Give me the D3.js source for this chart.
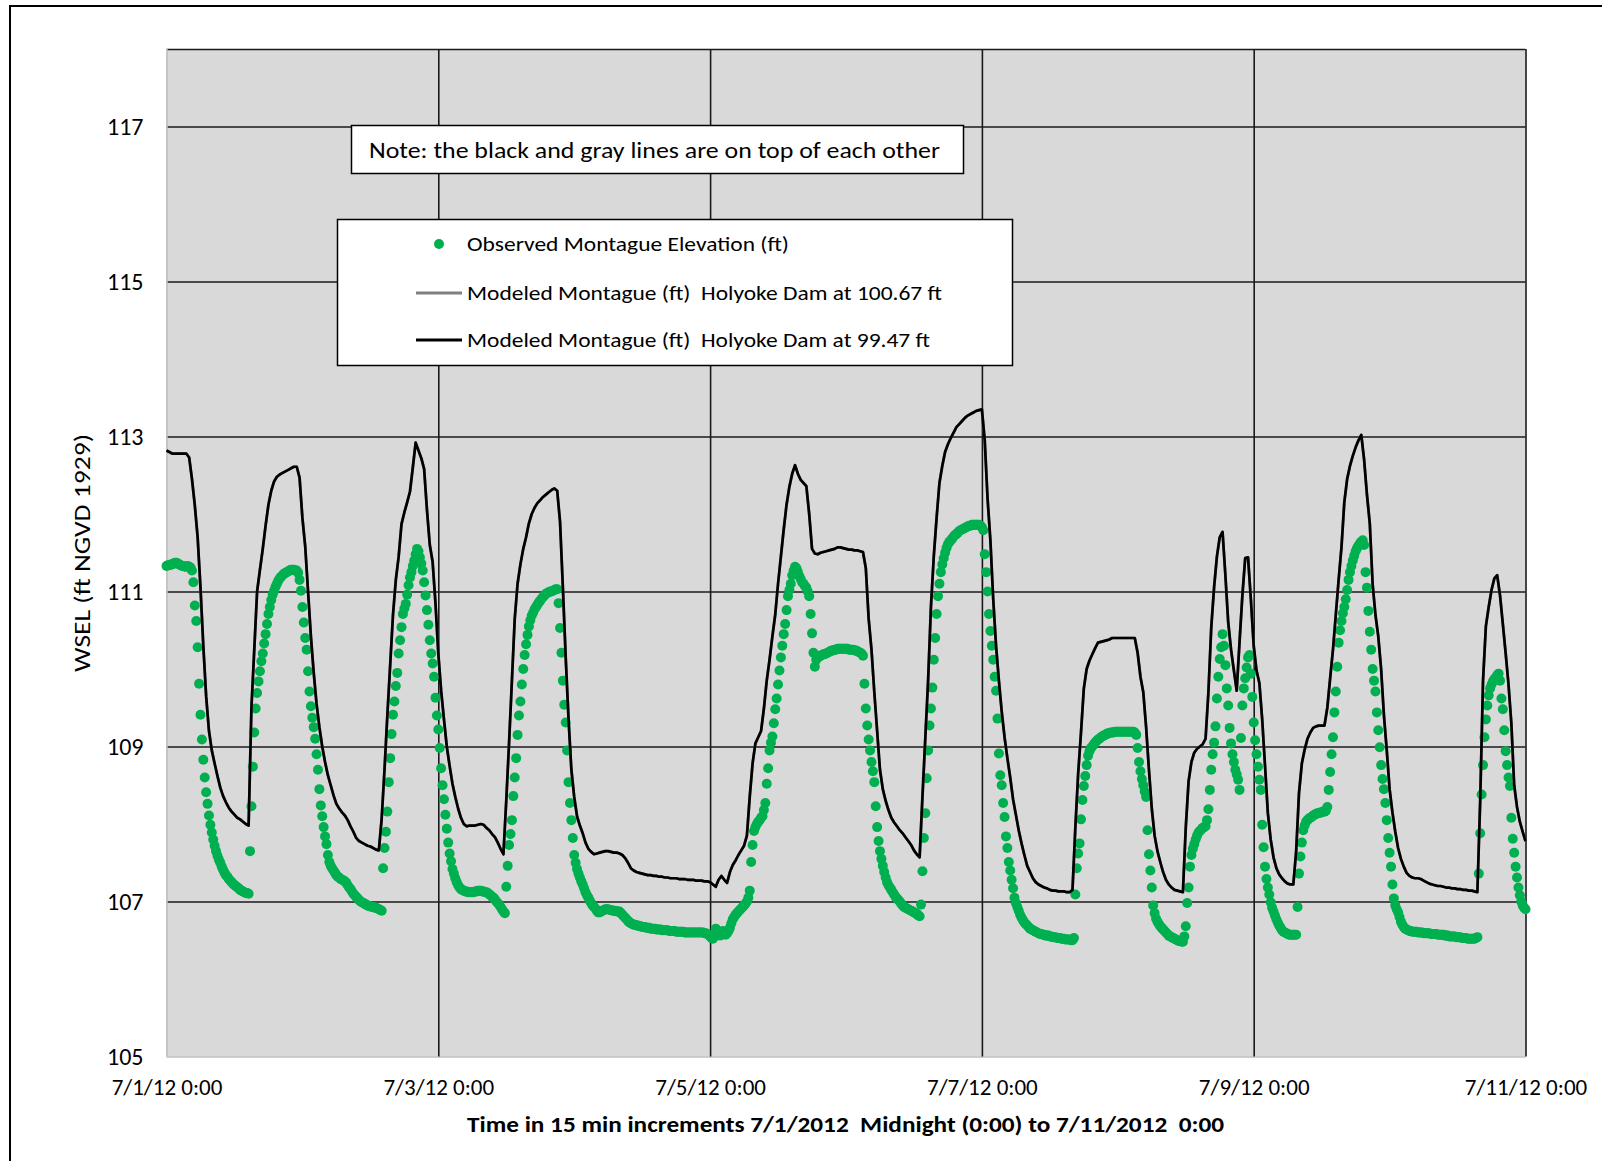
<!DOCTYPE html>
<html><head><meta charset="utf-8">
<script src="https://cdn.jsdelivr.net/npm/d3@7"></script>
<style>
html,body{margin:0;padding:0;background:#fff;}
svg{display:block;}
text{font-family:Carlito,Calibri,Lato,"Open Sans",sans-serif;fill:#000;}
</style></head><body>
<svg id="chart" width="1602" height="1161"></svg>
<script>
// ---------- DATA ----------
const startTime = new Date(2012, 6, 1, 0, 0);
const endTime = new Date(2012, 6, 11, 0, 0);
const observedStepMinutes = 15;
const modeledStepMinutes = 30;

// Observed Montague Elevation (ft), every 15 min from 7/1/2012 0:00
const observedMontague = [
111.33,111.34,111.34,111.35,111.35,111.36,111.37,111.37,111.36,111.35,111.34,111.33,111.33,111.32,111.32,111.33,111.32,111.31,111.27,111.12,110.82,110.62,110.28,109.81,
109.41,109.09,108.83,108.60,108.41,108.26,108.11,107.99,107.89,107.80,107.72,107.65,107.59,107.54,107.50,107.45,107.41,107.37,107.34,107.32,107.29,107.27,107.25,107.23,
107.21,107.20,107.18,107.17,107.15,107.14,107.13,107.12,107.11,107.11,107.10,107.65,108.23,108.74,109.18,109.49,109.69,109.84,109.97,110.10,110.20,110.33,110.45,110.58,
110.71,110.80,110.89,110.96,111.01,111.06,111.10,111.14,111.17,111.19,111.21,111.23,111.24,111.25,111.26,111.27,111.28,111.28,111.28,111.27,111.27,111.24,111.15,111.01,
110.80,110.60,110.40,110.25,109.97,109.71,109.52,109.37,109.25,109.10,108.90,108.70,108.45,108.24,108.10,107.96,107.84,107.74,107.60,107.51,107.46,107.43,107.40,107.37,
107.34,107.32,107.31,107.29,107.28,107.27,107.26,107.24,107.21,107.18,107.16,107.13,107.10,107.08,107.06,107.04,107.02,107.00,106.99,106.98,106.97,106.96,106.95,106.94,
106.94,106.93,106.93,106.92,106.92,106.91,106.90,106.89,106.88,107.43,107.69,107.90,108.16,108.54,108.85,109.16,109.41,109.58,109.78,109.95,110.20,110.37,110.54,110.71,
110.78,110.84,110.96,111.08,111.18,111.25,111.33,111.40,111.48,111.55,111.52,111.44,111.36,111.27,111.12,110.95,110.76,110.57,110.37,110.20,110.07,109.90,109.63,109.40,
109.22,108.98,108.72,108.50,108.32,108.12,107.94,107.76,107.62,107.52,107.42,107.36,107.30,107.25,107.21,107.18,107.16,107.15,107.14,107.13,107.13,107.12,107.12,107.12,
107.12,107.12,107.13,107.13,107.14,107.14,107.14,107.13,107.13,107.12,107.12,107.11,107.09,107.08,107.06,107.05,107.03,107.00,106.98,106.96,106.93,106.90,106.87,106.85,
107.19,107.46,107.73,107.87,108.05,108.36,108.60,108.85,109.15,109.40,109.58,109.80,110.00,110.18,110.32,110.44,110.55,110.63,110.69,110.73,110.77,110.80,110.83,110.86,
110.88,110.91,110.93,110.95,110.97,110.98,110.99,111.00,111.00,111.01,111.02,111.03,111.03,110.85,110.53,110.21,109.85,109.54,109.31,108.95,108.54,108.27,108.05,107.82,
107.60,107.50,107.42,107.36,107.31,107.26,107.22,107.17,107.12,107.08,107.05,107.01,106.98,106.95,106.93,106.91,106.88,106.86,106.86,106.87,106.88,106.89,106.90,106.90,
106.90,106.89,106.89,106.88,106.88,106.88,106.87,106.87,106.87,106.85,106.83,106.81,106.79,106.77,106.75,106.73,106.72,106.71,106.70,106.70,106.69,106.69,106.68,106.68,
106.67,106.67,106.67,106.66,106.66,106.66,106.65,106.65,106.65,106.65,106.64,106.64,106.64,106.64,106.63,106.63,106.63,106.63,106.63,106.62,106.62,106.62,106.62,106.62,
106.61,106.61,106.61,106.61,106.61,106.61,106.60,106.60,106.60,106.60,106.60,106.60,106.60,106.60,106.60,106.60,106.60,106.60,106.60,106.60,106.59,106.59,106.58,106.57,
106.55,106.53,106.52,106.58,106.65,106.62,106.57,106.56,106.58,106.62,106.60,106.57,106.59,106.62,106.66,106.72,106.77,106.80,106.83,106.85,106.87,106.89,106.91,106.93,
106.95,106.97,107.00,107.05,107.14,107.51,107.73,107.91,107.96,108.00,108.03,108.05,108.08,108.10,108.18,108.27,108.52,108.72,108.95,109.05,109.13,109.30,109.48,109.62,
109.80,109.98,110.15,110.30,110.45,110.58,110.76,110.94,111.02,111.10,111.21,111.27,111.32,111.30,111.25,111.20,111.16,111.12,111.10,111.07,111.05,111.00,110.94,110.71,
110.46,110.21,110.03,110.12,110.15,110.16,110.17,110.18,110.19,110.19,110.20,110.21,110.22,110.23,110.24,110.24,110.25,110.25,110.26,110.26,110.26,110.26,110.26,110.26,
110.26,110.26,110.25,110.25,110.25,110.25,110.24,110.24,110.23,110.22,110.21,110.20,110.17,109.81,109.49,109.27,109.09,108.95,108.80,108.68,108.54,108.23,107.96,107.78,
107.65,107.55,107.46,107.38,107.31,107.25,107.21,107.18,107.15,107.12,107.09,107.06,107.04,107.02,107.00,106.97,106.95,106.93,106.92,106.91,106.90,106.89,106.88,106.87,
106.86,106.85,106.84,106.82,106.81,106.96,107.39,107.82,108.14,108.59,108.95,109.27,109.49,109.76,110.12,110.40,110.71,110.94,111.10,111.25,111.35,111.43,111.50,111.56,
111.61,111.64,111.66,111.68,111.71,111.73,111.74,111.76,111.78,111.79,111.80,111.81,111.82,111.83,111.84,111.85,111.85,111.86,111.86,111.86,111.86,111.86,111.86,111.85,
111.83,111.79,111.48,111.25,111.00,110.71,110.49,110.30,110.12,109.90,109.72,109.36,108.91,108.63,108.50,108.27,108.09,107.84,107.69,107.51,107.40,107.28,107.17,107.05,
106.98,106.93,106.88,106.83,106.79,106.76,106.73,106.71,106.69,106.67,106.65,106.64,106.63,106.62,106.61,106.60,106.59,106.58,106.58,106.57,106.57,106.56,106.56,106.56,
106.55,106.55,106.54,106.54,106.54,106.53,106.53,106.53,106.52,106.52,106.52,106.51,106.51,106.51,106.51,106.50,106.50,106.53,107.09,107.43,107.62,107.75,108.06,108.31,
108.49,108.62,108.76,108.88,108.94,108.98,109.00,109.03,109.05,109.07,109.09,109.10,109.12,109.13,109.14,109.15,109.16,109.17,109.17,109.18,109.18,109.18,109.19,109.19,
109.19,109.19,109.19,109.19,109.19,109.19,109.19,109.19,109.19,109.19,109.19,109.19,109.18,109.15,108.98,108.80,108.68,108.58,108.50,108.42,108.35,107.92,107.61,107.40,
107.18,106.95,106.85,106.78,106.74,106.71,106.68,106.66,106.64,106.62,106.60,106.58,106.56,106.55,106.54,106.53,106.52,106.51,106.50,106.49,106.49,106.48,106.48,106.55,
106.68,106.98,107.18,107.45,107.60,107.68,107.74,107.80,107.85,107.89,107.91,107.93,107.95,107.96,107.97,108.05,108.19,108.44,108.70,108.90,109.05,109.26,109.62,109.90,
110.13,110.28,110.45,110.30,110.05,109.75,109.53,109.24,109.04,108.90,108.80,108.70,108.64,108.57,108.44,109.11,109.53,109.75,109.88,110.02,110.15,110.18,109.94,109.64,
109.31,109.08,108.90,108.74,108.57,108.44,107.99,107.70,107.45,107.29,107.18,107.09,106.99,106.92,106.87,106.82,106.77,106.73,106.69,106.66,106.63,106.61,106.60,106.59,
106.58,106.57,106.57,106.57,106.57,106.57,106.57,106.93,107.36,107.58,107.76,107.92,107.98,108.03,108.05,108.07,108.08,108.09,108.11,108.12,108.13,108.14,108.14,108.15,
108.15,108.16,108.16,108.17,108.22,108.44,108.67,108.90,109.12,109.44,109.71,110.03,110.34,110.50,110.62,110.72,110.80,110.90,111.02,111.15,111.25,111.33,111.40,111.46,
111.52,111.56,111.59,111.62,111.64,111.66,111.60,111.25,111.05,110.75,110.48,110.25,110.00,109.85,109.71,109.44,109.21,108.99,108.76,108.58,108.45,108.27,108.05,107.82,
107.63,107.45,107.22,107.04,106.95,106.90,106.86,106.80,106.74,106.70,106.67,106.65,106.64,106.63,106.62,106.62,106.61,106.61,106.61,106.61,106.60,106.60,106.60,106.60,
106.59,106.59,106.59,106.59,106.59,106.58,106.58,106.58,106.58,106.58,106.57,106.57,106.57,106.57,106.57,106.56,106.56,106.56,106.55,106.55,106.55,106.55,106.55,106.54,
106.54,106.54,106.54,106.53,106.53,106.53,106.53,106.52,106.52,106.52,106.52,106.52,106.52,106.53,106.54,107.36,107.88,108.38,108.76,109.12,109.35,109.53,109.66,109.75,
109.80,109.84,109.87,109.89,109.92,109.94,109.85,109.62,109.48,109.21,108.94,108.76,108.60,108.49,108.08,107.81,107.63,107.45,107.31,107.18,107.08,107.00,106.95,106.92,
106.90
];

// Modeled Montague (ft), Holyoke Dam at 99.47 ft, every 30 min from 7/1/2012 0:00
const modeledHolyoke9947 = [
112.82,112.80,112.78,112.78,112.78,112.78,112.78,112.78,112.73,112.45,112.11,111.70,111.05,110.30,109.65,109.20,108.95,108.78,108.62,108.47,108.36,108.28,108.21,108.16,
108.12,108.08,108.06,108.03,108.00,107.98,109.50,110.25,111.00,111.28,111.55,111.85,112.12,112.30,112.42,112.48,112.51,112.53,112.55,112.57,112.59,112.61,112.61,112.47,
111.95,111.58,111.00,110.42,109.95,109.55,109.25,109.00,108.80,108.63,108.50,108.37,108.26,108.20,108.15,108.11,108.05,107.97,107.90,107.82,107.78,107.76,107.74,107.72,
107.71,107.69,107.67,107.66,108.07,108.70,109.40,110.05,110.70,111.15,111.45,111.87,112.02,112.15,112.29,112.60,112.92,112.82,112.72,112.58,112.05,111.60,111.38,110.85,
110.20,109.72,109.35,109.00,108.75,108.52,108.35,108.20,108.08,108.00,107.97,107.98,107.98,107.98,107.99,108.00,107.99,107.95,107.92,107.87,107.83,107.76,107.68,107.61,
108.30,109.05,109.85,110.65,111.10,111.35,111.55,111.70,111.88,112.00,112.08,112.14,112.18,112.22,112.25,112.28,112.31,112.33,112.30,111.90,111.05,110.15,109.35,108.70,
108.35,108.10,107.98,107.88,107.76,107.68,107.64,107.61,107.62,107.63,107.64,107.65,107.65,107.64,107.63,107.63,107.62,107.60,107.56,107.50,107.43,107.40,107.38,107.37,
107.36,107.35,107.34,107.34,107.33,107.33,107.32,107.32,107.31,107.31,107.30,107.30,107.30,107.29,107.29,107.29,107.28,107.28,107.28,107.27,107.27,107.27,107.26,107.26,
107.25,107.22,107.19,107.28,107.33,107.28,107.24,107.38,107.47,107.53,107.60,107.66,107.72,107.85,108.35,108.78,109.04,109.12,109.20,109.49,109.85,110.12,110.42,110.70,
111.10,111.45,111.80,112.12,112.35,112.52,112.63,112.52,112.44,112.40,112.36,112.00,111.55,111.49,111.48,111.50,111.51,111.52,111.53,111.54,111.55,111.57,111.57,111.56,
111.55,111.54,111.54,111.53,111.53,111.52,111.51,111.30,110.65,110.25,109.70,109.20,108.70,108.45,108.30,108.18,108.08,108.02,107.97,107.92,107.88,107.83,107.78,107.73,
107.66,107.61,107.57,108.35,109.10,109.85,110.80,111.45,111.95,112.40,112.62,112.80,112.90,112.98,113.05,113.12,113.16,113.20,113.24,113.27,113.29,113.31,113.33,113.34,
113.35,112.95,112.20,111.66,110.90,110.30,109.85,109.45,109.12,108.85,108.60,108.32,108.12,107.92,107.75,107.60,107.46,107.38,107.30,107.25,107.22,107.20,107.18,107.17,
107.15,107.14,107.14,107.13,107.13,107.13,107.12,107.12,107.15,107.95,108.65,109.18,109.75,110.00,110.11,110.19,110.27,110.34,110.35,110.36,110.37,110.38,110.40,110.40,
110.40,110.40,110.40,110.40,110.40,110.40,110.40,110.21,109.90,109.70,109.25,108.70,108.20,107.85,107.65,107.51,107.38,107.28,107.22,107.18,107.15,107.14,107.13,107.12,
107.95,108.55,108.80,108.92,108.97,109.00,109.03,109.10,109.70,110.53,111.05,111.45,111.70,111.77,111.21,110.60,110.25,109.98,109.72,110.35,110.95,111.43,111.44,110.90,
110.30,109.98,109.82,109.35,108.75,108.14,107.80,107.57,107.43,107.35,107.30,107.26,107.23,107.22,107.22,107.65,108.40,108.78,108.96,109.10,109.18,109.24,109.26,109.27,
109.27,109.27,109.50,109.88,110.25,110.70,111.15,111.57,112.15,112.45,112.62,112.75,112.86,112.95,113.02,112.70,112.25,111.88,111.10,110.70,110.42,110.00,109.40,108.95,
108.45,108.15,107.90,107.69,107.55,107.45,107.37,107.33,107.31,107.30,107.30,107.29,107.27,107.25,107.23,107.22,107.21,107.20,107.20,107.19,107.18,107.18,107.17,107.17,
107.16,107.16,107.15,107.15,107.14,107.14,107.13,107.12,108.30,109.85,110.55,110.80,111.02,111.17,111.21,110.95,110.58,110.20,109.80,109.30,108.50,108.22,108.03,107.90,
107.78
];
// Holyoke Dam at 100.67 ft: lies exactly under the 99.47 ft line in the picture
const modeledHolyoke10067 = modeledHolyoke9947.slice();

const seriesNames = [
  "Observed Montague Elevation (ft)",
  "Modeled Montague (ft)  Holyoke Dam at 100.67 ft",
  "Modeled Montague (ft)  Holyoke Dam at 99.47 ft"
];
const yDomain = [105, 118];
const yTicks = [105, 107, 109, 111, 113, 115, 117];
const xTickDates = [1, 3, 5, 7, 9, 11].map(d => new Date(2012, 6, d, 0, 0));
const xTickLabels = ["7/1/12 0:00", "7/3/12 0:00", "7/5/12 0:00", "7/7/12 0:00", "7/9/12 0:00", "7/11/12 0:00"];
const yAxisTitle = "WSEL (ft NGVD 1929)";
const xAxisTitle = "Time in 15 min increments 7/1/2012  Midnight (0:00) to 7/11/2012  0:00";
const noteText = "Note: the black and gray lines are on top of each other";

// ---------- LAYOUT ----------
const plot = {left: 166.5, right: 1525.5, top: 49, bottom: 1056.5};
const svg = d3.select("#chart");

const x = d3.scaleTime().domain([startTime, endTime]).range([plot.left, plot.right]);
const y = d3.scaleLinear().domain(yDomain).range([plot.bottom, plot.top]);

const obsPts = observedMontague.map((v, i) => ({t: new Date(startTime.getTime() + i * observedStepMinutes * 60000), v}));
const modPts9947 = modeledHolyoke9947.map((v, i) => ({t: new Date(startTime.getTime() + i * modeledStepMinutes * 60000), v}));
const modPts10067 = modeledHolyoke10067.map((v, i) => ({t: new Date(startTime.getTime() + i * modeledStepMinutes * 60000), v}));

// outer frame
svg.append("rect").attr("x", 10).attr("y", 6).attr("width", 1700).attr("height", 1300)
  .attr("fill", "none").attr("stroke", "#000").attr("stroke-width", 2);

// plot background
svg.append("rect").attr("x", plot.left).attr("y", plot.top)
  .attr("width", plot.right - plot.left).attr("height", plot.bottom - plot.top)
  .attr("fill", "#d9d9d9");

// horizontal gridlines
const gy = svg.append("g").attr("transform", `translate(${plot.left},0)`)
  .call(d3.axisLeft(y).tickValues(yTicks.concat([yDomain[1]])).tickSize(-(plot.right - plot.left)).tickFormat(""));
gy.select(".domain").remove();
gy.selectAll(".tick line").attr("stroke", d => d === yDomain[0] ? "#bfbfbf" : "#1a1a1a").attr("stroke-width", 1.6);

// vertical gridlines
const gx = svg.append("g").attr("transform", `translate(0,${plot.bottom})`)
  .call(d3.axisBottom(x).tickValues(xTickDates).tickSize(-(plot.bottom - plot.top)).tickFormat(""));
gx.select(".domain").remove();
gx.selectAll(".tick line").attr("stroke", (d, i) => i === 0 ? "#bfbfbf" : "#1a1a1a").attr("stroke-width", 1.6);

// observed dots
svg.append("g").selectAll("circle").data(obsPts).join("circle")
  .attr("cx", d => x(d.t)).attr("cy", d => y(d.v)).attr("r", 5).attr("fill", "#00b050");

// modeled lines
const line = d3.line().x(d => x(d.t)).y(d => y(d.v));
svg.append("path").datum(modPts10067).attr("d", line).attr("fill", "none")
  .attr("stroke", "#808080").attr("stroke-width", 2.7).attr("stroke-linejoin", "round");
svg.append("path").datum(modPts9947).attr("d", line).attr("fill", "none")
  .attr("stroke", "#000").attr("stroke-width", 2.7).attr("stroke-linejoin", "round");

// y axis labels
const ya = svg.append("g").attr("transform", `translate(${plot.left},0)`)
  .call(d3.axisLeft(y).tickValues(yTicks).tickSize(0).tickPadding(23).tickFormat(d3.format("d")));
ya.select(".domain").remove();
ya.selectAll("text").attr("font-size", 24).attr("dy", "0.35em").style("font-family", null);

// x axis labels
const xa = svg.append("g").attr("transform", `translate(0,${plot.bottom})`)
  .call(d3.axisBottom(x).tickValues(xTickDates).tickSize(0).tickFormat((d, i) => xTickLabels[i]));
xa.select(".domain").remove();
xa.selectAll("text").attr("font-size", 23).attr("y", 30.5).attr("dy", "0.35em").style("font-family", null);

// axis titles
svg.append("text").attr("transform", `translate(82,553) rotate(-90)`)
  .attr("text-anchor", "middle").attr("dominant-baseline", "central")
  .attr("font-size", 22).attr("textLength", 238).attr("lengthAdjust", "spacingAndGlyphs")
  .text(yAxisTitle);
svg.append("text").attr("x", 845.5).attr("y", 1124)
  .attr("text-anchor", "middle").attr("dominant-baseline", "central")
  .attr("font-size", 22).attr("font-weight", "bold").style("white-space", "pre")
  .attr("textLength", 757).attr("lengthAdjust", "spacingAndGlyphs")
  .text(xAxisTitle);

// note box
svg.append("rect").attr("x", 351.5).attr("y", 125.5).attr("width", 612).attr("height", 48)
  .attr("fill", "#fff").attr("stroke", "#000").attr("stroke-width", 1.5);
svg.append("text").attr("x", 654.5).attr("y", 150).attr("text-anchor", "middle").attr("dominant-baseline", "central")
  .attr("font-size", 22).attr("textLength", 571).attr("lengthAdjust", "spacingAndGlyphs")
  .text(noteText);

// legend
const lg = svg.append("g");
lg.append("rect").attr("x", 337.5).attr("y", 219.5).attr("width", 675).attr("height", 146)
  .attr("fill", "#fff").attr("stroke", "#000").attr("stroke-width", 1.5);
const legendRows = [
  {name: seriesNames[0], y: 244, kind: "dot", color: "#00b050", len: 322},
  {name: seriesNames[1], y: 293, kind: "line", color: "#808080", len: 475},
  {name: seriesNames[2], y: 340, kind: "line", color: "#000", len: 463}
];
legendRows.forEach(r => {
  if (r.kind === "dot") {
    lg.append("circle").attr("cx", 439).attr("cy", r.y).attr("r", 5).attr("fill", r.color);
  } else {
    lg.append("line").attr("x1", 416).attr("x2", 462).attr("y1", r.y).attr("y2", r.y)
      .attr("stroke", r.color).attr("stroke-width", 3);
  }
  lg.append("text").attr("x", 467).attr("y", r.y).attr("dominant-baseline", "central")
    .attr("font-size", 20).style("white-space", "pre")
    .attr("textLength", r.len).attr("lengthAdjust", "spacingAndGlyphs").text(r.name);
});
</script>
</body></html>
